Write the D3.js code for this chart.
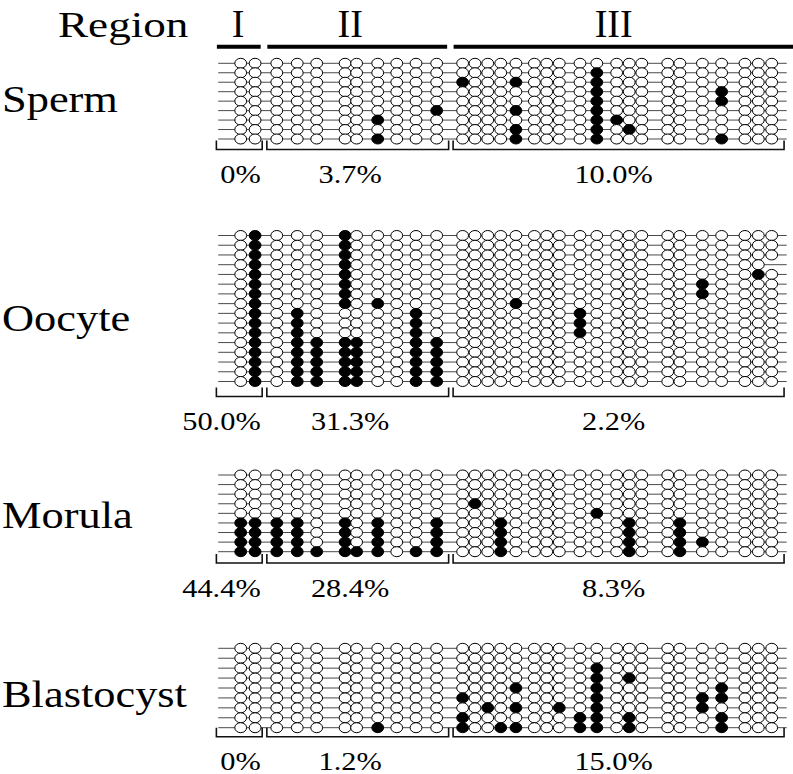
<!DOCTYPE html>
<html><head><meta charset="utf-8">
<script src="https://cdn.jsdelivr.net/npm/d3@7"></script>
<style>
html,body{margin:0;padding:0;background:#fff;}
svg{display:block;}
</style>
</head><body>
<svg id="chart" width="793" height="774"></svg>
<script>
// ---------------- DATA ----------------
const regionNames = ["I", "II", "III"];
const regionSizes = [2, 9, 20];                 // CpGs per region
const sampleNames = ["Sperm", "Oocyte", "Morula", "Blastocyst"];
// relative CpG positions (bp)
const cpgPositions = [0, 7.1, 17.8, 27.9, 37.5, 51.5, 57.2, 67.6, 77.0, 86.5, 96.7,
  109.5, 115.6, 121.9, 128.3, 135.8, 144.9, 151.0, 157.2, 167.4, 175.7,
  185.5, 191.7, 197.9, 210.7, 216.7, 227.8, 237.3, 248.8, 255.4, 262];
// region boundaries (bp) and label centres (bp)
const regionStart = [-12, 12.9, 104.8];
const regionEnd = [10.6, 102.6, 268.1];
const regionLabelAt = [-1.3, 54, 184];
// reads: 1 = methylated, 0 = unmethylated, - = not determined (region I | II | III)
const spermReads = [
  "00 000000000 00000000000000000000",
  "00 000000000 00000000010000000000",
  "00 000000000 10001000010000000000",
  "00 000000000 00000000010000001000",
  "00 000000000 00000000010000001000",
  "00 000000001 00001000010000000000",
  "00 000001000 00000000011000000000",
  "00 000000000 00001000010100000000",
  "00 000001000 00001000010000001000"
];
const oocyteReads = [
  "01 000100000 00000000000000000000",
  "01 000100000 00000000000000000000",
  "01 000100000 00000000000000000000",
  "01 000100000 0000000000000000000-",
  "01 000100000 00000000000000000010",
  "01 000100000 00000000000000010000",
  "01 000100000 00000000000000010000",
  "01 000101000 00001000000000000000",
  "01 010000010 00000000100000000000",
  "01 010000010 00000000100000000000",
  "01 010000010 00000000100000000000",
  "01 011110011 00000000000000000000",
  "01 011110011 00000000000000000000",
  "01 011110011 00000000000000000000",
  "01 011110011 00000000000000000000",
  "01 011110011 00000000000000000000"
];
const morulaReads = [
  "00 000000000 00000000000000000000",
  "00 000000000 00000000000000000000",
  "00 000000000 00000000000000000000",
  "00 000000000 01000000000000000000",
  "00 000000000 00000000010000000000",
  "11 110101001 00010000000100100000",
  "11 110101001 00010000000100100000",
  "11 110101001 00010000000100110000",
  "11 111111011 00010000000100100000"
];
const blastocystReads = [
  "00 000000000 00000000000000000000",
  "00 000000000 00000000000000000000",
  "00 000000000 00000000010000000000",
  "00 000000000 00000000010100000000",
  "00 000000000 00001000010000001000",
  "00 000000000 10000000010000011000",
  "00 000000000 00101001010000010000",
  "00 000000000 10000000110100001000",
  "00 000001000 10011000110100001000"
];
const spermPct = ["0%", "3.7%", "10.0%"];
const oocytePct = ["50.0%", "31.3%", "2.2%"];
const morulaPct = ["44.4%", "28.4%", "8.3%"];
const blastocystPct = ["0%", "1.2%", "15.0%"];

// ---------------- LAYOUT ----------------
const W = 793, H = 774;
const FONT = "Liberation Serif";
const SX = 1.24; // horizontal stretch of text in the original figure
const panels = [
  {name: sampleNames[0], reads: spermReads, pct: spermPct, rows: [63.3, 139], bracket: 149.5, pctY: 183, labelY: 111.5},
  {name: sampleNames[1], reads: oocyteReads, pct: oocytePct, rows: [235.5, 381.5], bracket: 396.5, pctY: 430, labelY: 331},
  {name: sampleNames[2], reads: morulaReads, pct: morulaPct, rows: [475, 551.7], bracket: 563, pctY: 597, labelY: 528.3},
  {name: sampleNames[3], reads: blastocystReads, pct: blastocystPct, rows: [648.3, 727.7], bracket: 736.8, pctY: 770, labelY: 706.7}
];

const svg = d3.select("#chart");
const x = d3.scaleLinear().domain([0, 262]).range([240.7, 771.7]);

function stext(sel, str, px, py, size, anchor, sx) {
  return sel.append("text")
    .attr("transform", `translate(${px},${py}) scale(${sx == null ? SX : sx},1)`)
    .attr("text-anchor", anchor)
    .attr("font-size", size)
    .style("font-family", FONT)
    .attr("fill", "#000")
    .text(str);
}

// ---------------- HEADER ----------------
const header = svg.append("g");
stext(header, "Region", 58, 37, 35, "start", 1.29);
regionNames.forEach((nm, r) => {
  stext(header, nm, x(regionLabelAt[r]), 37.3, 40, "middle", 0.95);
  header.append("line")
    .attr("x1", x(regionStart[r]) + 0.5)
    .attr("x2", r === regionNames.length - 1 ? W : x(regionEnd[r]) - 1.5)
    .attr("y1", 46.7).attr("y2", 46.7)
    .attr("stroke", "#000").attr("stroke-width", 4);
});

// ---------------- PANELS ----------------
panels.forEach(p => {
  const g = svg.append("g");
  const cells = p.reads.map(s => s.replace(/\s/g, "").split(""));
  const y = d3.scalePoint().domain(d3.range(cells.length)).range(p.rows);

  // sample label
  stext(g, p.name, 2, p.labelY, 37, "start", 1.2);

  // row lines
  g.selectAll("line.row").data(cells).join("line")
    .attr("class", "row")
    .attr("x1", x(-11.1)).attr("x2", x(269.4))
    .attr("y1", (d, i) => y(i)).attr("y2", (d, i) => y(i))
    .attr("stroke", "#4a4a4a").attr("stroke-width", 1);

  // CpG circles
  const flat = [];
  cells.forEach((row, i) => row.forEach((v, j) => { if (v !== "-") flat.push({i, j, v}); }));
  g.selectAll("ellipse").data(flat).join("ellipse")
    .attr("cx", d => x(cpgPositions[d.j]))
    .attr("cy", d => y(d.i))
    .attr("rx", 5.9).attr("ry", 5.0)
    .attr("fill", d => d.v === "1" ? "#000" : "#fff")
    .attr("stroke", "#000").attr("stroke-width", 1);

  // brackets + percentages
  regionNames.forEach((nm, r) => {
    const x0 = x(regionStart[r]), x1 = x(regionEnd[r]);
    g.append("path")
      .attr("d", `M${x0},${p.bracket - 9}V${p.bracket}H${x1}V${p.bracket - 9}`)
      .attr("fill", "none").attr("stroke", "#111").attr("stroke-width", 1.6);
    if (r === 0) stext(g, p.pct[r], x1 - 1.5, p.pctY, 24.5, "end");
    else stext(g, p.pct[r], x(regionLabelAt[r]), p.pctY, 24.5, "middle");
  });
});
</script>
</body></html>
